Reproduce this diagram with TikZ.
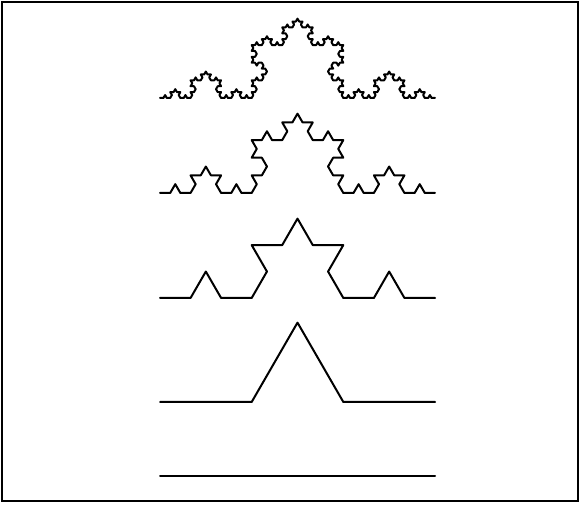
\documentclass[tikz,border=0pt]{standalone}
\usetikzlibrary{lindenmayersystems}
\pgfdeclarelindenmayersystem{Koch}{\rule{F -> F+F--F+F}}
\begin{document}
\begin{tikzpicture}[x=1pt,y=1pt,
  curve/.style={line width=2pt,line join=round,line cap=round}]
\useasboundingbox (0,0) rectangle (580,505);
\draw[line width=1.2pt] (2,4) rectangle (578,503);
% level 0
\draw[curve] (160,29) -- (435,29);
% levels 1-4
\begin{scope}[shift={(160,103)}]
\draw[curve,l-system={Koch,axiom=F,order=1,step=91.667pt,angle=60}] (0,0) lindenmayer system;
\end{scope}
\begin{scope}[shift={(160,207)}]
\draw[curve,l-system={Koch,axiom=F,order=2,step=30.556pt,angle=60}] (0,0) lindenmayer system;
\end{scope}
\begin{scope}[shift={(160,312)}]
\draw[curve,l-system={Koch,axiom=F,order=3,step=10.185pt,angle=60}] (0,0) lindenmayer system;
\end{scope}
\begin{scope}[shift={(160,407)}]
\draw[curve,l-system={Koch,axiom=F,order=4,step=3.395pt,angle=60}] (0,0) lindenmayer system;
\end{scope}
\end{tikzpicture}
\end{document}
